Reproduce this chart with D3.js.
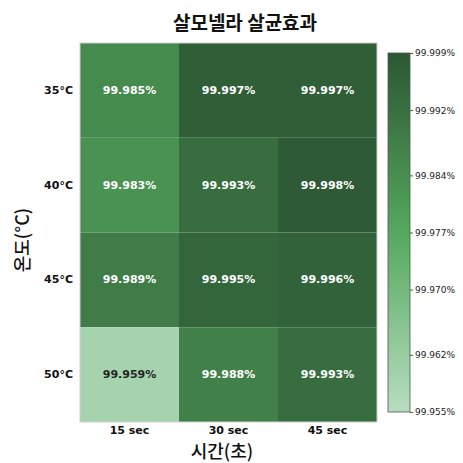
<!DOCTYPE html>
<html>
<head>
<meta charset="utf-8">
<script src="https://cdn.jsdelivr.net/npm/d3@7"></script>
<style>
  html, body { margin: 0; padding: 0; background: #fff; }
  svg { display: block; }
</style>
</head>
<body>
<svg id="chart" width="463" height="463"></svg>
<script>
// Salmonella reduction rate (%) by temperature and treatment time
const temperatures = ["35°C", "40°C", "45°C", "50°C"];
const times = ["15 sec", "30 sec", "45 sec"];
const rates = [
  [99.985, 99.997, 99.997],
  [99.983, 99.993, 99.998],
  [99.989, 99.995, 99.996],
  [99.959, 99.988, 99.993]
];
const colorbarTicks = [99.955, 99.962, 99.970, 99.977, 99.984, 99.992, 99.999];
const colorDomain = [99.955, 99.999];

const svg = d3.select("#chart");

const plot = { left: 80, right: 377, top: 43, bottom: 422 };

const x = d3.scaleBand().domain(times).range([plot.left, plot.right]);
const y = d3.scaleBand().domain(temperatures).range([plot.top, plot.bottom]);

// light green -> green -> dark green
const color = d3.scaleLinear()
  .domain([colorDomain[0], (colorDomain[0] + colorDomain[1]) / 2, colorDomain[1]])
  .range(["#b7ddbf", "#55a85e", "#2c5733"])
  .interpolate(d3.interpolateRgb)
  .clamp(true);

const cells = [];
temperatures.forEach((t, i) => times.forEach((s, j) => cells.push({ t, s, v: rates[i][j] })));

// Heatmap cells
svg.append("g").selectAll("rect").data(cells).join("rect")
  .attr("x", d => x(d.s))
  .attr("y", d => y(d.t))
  .attr("width", x.bandwidth())
  .attr("height", y.bandwidth())
  .attr("fill", d => color(d.v));

svg.append("rect")
  .attr("x", plot.left).attr("y", plot.top)
  .attr("width", plot.right - plot.left).attr("height", plot.bottom - plot.top)
  .attr("fill", "none").attr("stroke", "#d0d0d0").attr("stroke-width", 1);

// Cell annotations
svg.append("g").selectAll("text").data(cells).join("text")
  .attr("x", d => x(d.s) + x.bandwidth() / 2)
  .attr("y", d => y(d.t) + y.bandwidth() / 2)
  .attr("text-anchor", "middle")
  .attr("dominant-baseline", "central")
  .attr("font-family", "DejaVu Sans")
  .attr("font-weight", "bold")
  .attr("font-size", 11)
  .attr("fill", d => d.v < 99.97 ? "#262626" : "#ffffff")
  .text(d => d.v.toFixed(3) + "%");

// Y tick labels
svg.append("g").selectAll("text").data(temperatures).join("text")
  .attr("x", 73)
  .attr("y", d => y(d) + y.bandwidth() / 2)
  .attr("text-anchor", "end")
  .attr("dominant-baseline", "central")
  .attr("font-family", "DejaVu Sans")
  .attr("font-weight", "bold")
  .attr("font-size", 11)
  .attr("fill", "#111")
  .text(d => d);

// X tick labels
svg.append("g").selectAll("text").data(times).join("text")
  .attr("x", d => x(d) + x.bandwidth() / 2)
  .attr("y", 430)
  .attr("text-anchor", "middle")
  .attr("dominant-baseline", "central")
  .attr("font-family", "DejaVu Sans")
  .attr("font-weight", "bold")
  .attr("font-size", 11)
  .attr("fill", "#111")
  .text(d => d);

// Title and axis titles
svg.append("text")
  .attr("x", 245).attr("y", 21)
  .attr("text-anchor", "middle").attr("dominant-baseline", "central")
  .attr("font-family", "Noto Sans CJK KR").attr("font-weight", "bold")
  .attr("font-size", 19).attr("fill", "#111")
  .text("살모넬라 살균효과");

svg.append("text")
  .attr("x", 222).attr("y", 450)
  .attr("text-anchor", "middle").attr("dominant-baseline", "central")
  .attr("font-family", "Noto Sans CJK KR").attr("font-weight", "500")
  .attr("font-size", 18).attr("fill", "#111")
  .text("시간(초)");

svg.append("text")
  .attr("transform", "translate(21,240) rotate(-90)")
  .attr("text-anchor", "middle").attr("dominant-baseline", "central")
  .attr("font-family", "Noto Sans CJK KR").attr("font-weight", "500")
  .attr("font-size", 18).attr("fill", "#111")
  .text("온도(°C)");

// Colorbar
const cb = { x: 388, w: 22, top: 53, bottom: 412 };
const cbScale = d3.scaleLinear().domain(colorDomain).range([cb.bottom, cb.top]);

const defs = svg.append("defs");
const grad = defs.append("linearGradient")
  .attr("id", "cbgrad").attr("x1", 0).attr("y1", 1).attr("x2", 0).attr("y2", 0);
d3.range(0, 1.0001, 0.05).forEach(f => {
  const v = colorDomain[0] + f * (colorDomain[1] - colorDomain[0]);
  grad.append("stop").attr("offset", f).attr("stop-color", color(v));
});

svg.append("rect")
  .attr("x", cb.x).attr("y", cb.top)
  .attr("width", cb.w).attr("height", cb.bottom - cb.top)
  .attr("fill", "url(#cbgrad)")
  .attr("stroke", "#555").attr("stroke-width", 0.8);

const cbAxis = d3.axisRight(cbScale)
  .tickValues(colorbarTicks)
  .tickSize(3)
  .tickPadding(2)
  .tickFormat(d => d.toFixed(3) + "%");

const cbg = svg.append("g")
  .attr("transform", `translate(${cb.x + cb.w},0)`)
  .call(cbAxis);
cbg.select(".domain").remove();
cbg.selectAll("line").attr("stroke", "#555");
cbg.selectAll("text")
  .attr("font-family", "DejaVu Sans")
  .attr("font-size", 9)
  .attr("fill", "#222");
</script>
</body>
</html>
